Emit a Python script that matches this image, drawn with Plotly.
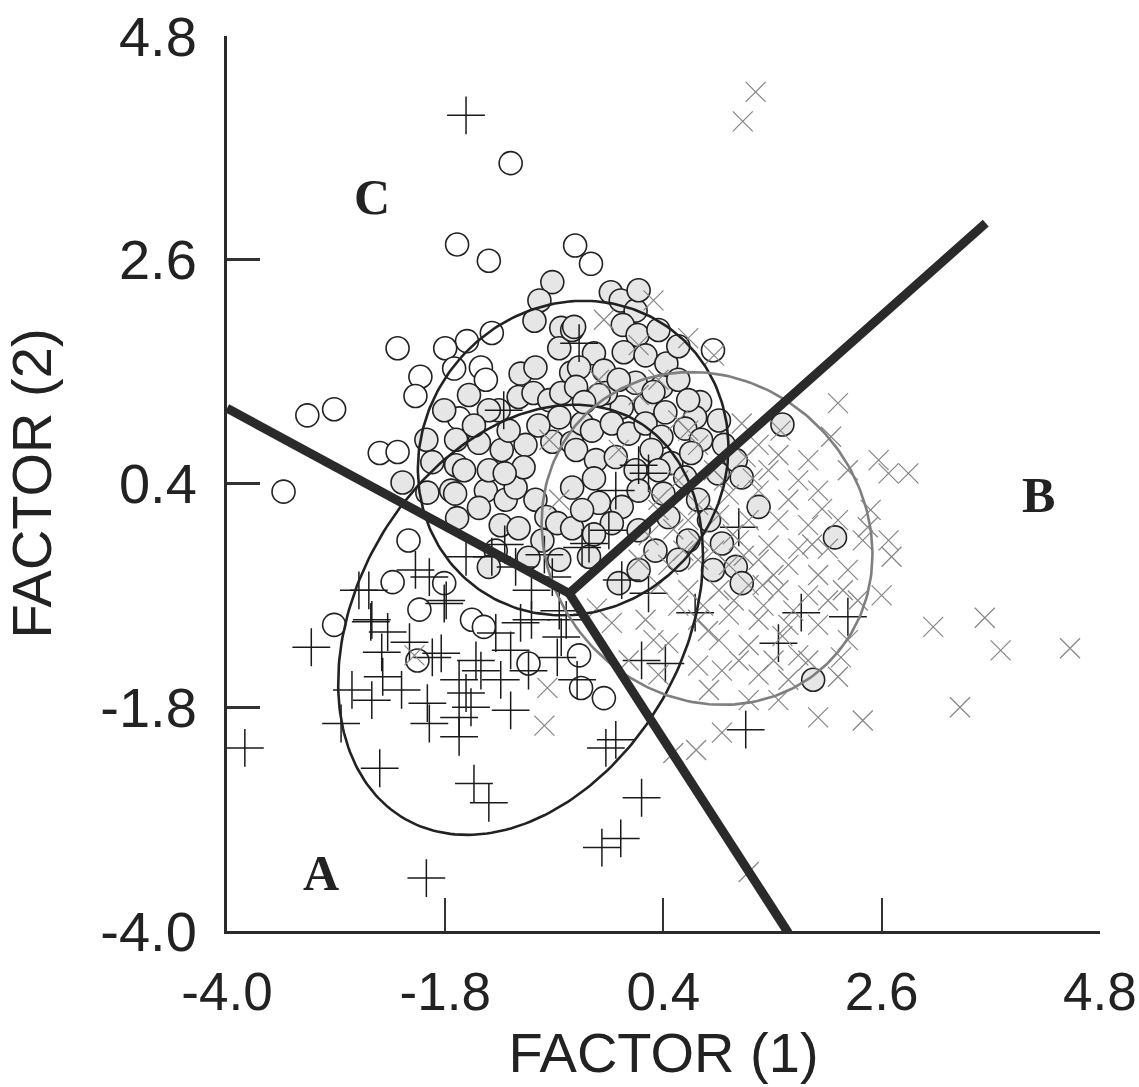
import numpy as np
import plotly.graph_objects as go

# ---------------- data ----------------
tick_vals = [-4.0, -1.8, 0.4, 2.6, 4.8]
tick_text = ["-4.0", "-1.8", "0.4", "2.6", "4.8"]

# group C (circles) - dense core (grey filled)
c_core_pts = [
    (-0.72, 2.38), (-0.85, 2.20), (-0.90, 2.00), (-0.63, 1.93), (-0.65, 1.73), (-1.04, 1.48), (-0.89, 1.54),
    (-1.06, 1.25), (-0.91, 1.29), (-0.75, 1.22), (-0.63, 1.29), (-0.53, 1.49), (-0.52, 1.91), (-1.26, 1.12),
    (-0.65, 1.05), (-0.13, 2.28), (-0.03, 2.20), (0.12, 2.10), (-0.01, 1.96), (0.14, 1.86), (0.00, 1.69),
    (0.22, 1.66), (0.43, 1.58), (0.38, 1.35), (0.12, 1.39), (0.22, 1.17), (0.77, 1.20), (-0.50, 1.94),
    (-0.30, 1.68), (-0.45, 1.54), (-0.20, 1.51), (-0.48, 1.35), (-0.02, 1.15), (-0.18, 1.29), (0.42, 1.10),
    (0.72, 1.05), (-1.99, 0.83), (-1.69, 0.83), (-1.46, 0.80), (-1.23, 0.73), (-0.99, 0.78), (-0.72, 0.81),
    (-0.52, 0.80), (-1.93, 0.61), (-1.69, 0.58), (-2.23, 0.41), (-1.98, 0.31), (-1.74, 0.33), (-1.39, 0.33),
    (-1.19, 0.24), (-1.09, 0.36), (-0.89, 0.24), (-1.01, 0.56), (-0.52, 0.36), (-1.46, 0.16), (-1.68, 0.06),
    (-1.24, -0.01), (-1.06, -0.04), (-0.78, 0.07), (-0.67, 0.01), (-0.82, -0.16), (-0.96, -0.33), (-1.36, -0.42),
    (-0.52, -0.04), (-0.42, 0.99), (-0.32, 0.92), (-0.12, 0.99), (0.05, 0.89), (0.22, 0.99), (0.38, 0.86),
    (0.62, 0.94), (0.78, 0.83), (-0.48, 0.73), (-0.28, 0.63), (-0.08, 0.66), (0.12, 0.53), (0.28, 0.73),
    (0.48, 0.60), (0.68, 0.70), (0.62, 0.46), (1.13, 0.63), (1.19, 0.46), (-0.25, 0.21), (-0.02, 0.17),
    (-0.42, 0.14), (-0.12, 0.01), (0.45, 0.07), (1.36, 0.17), (0.65, -0.16), (0.32, -0.26), (0.99, -0.19),
    (1.13, -0.42), (1.19, -0.58), (-0.05, -0.58), (-0.35, -0.32), (1.60, 0.98), (2.13, -0.13), (1.91, -1.53),
    (-1.56, 1.27), (-1.36, 1.12), (-1.81, 1.12), (-1.51, 0.97), (-1.16, 0.92), (-0.86, 0.97), (-0.25, 1.27),
    (-0.05, 1.42), (0.55, 1.42), (0.65, 1.22), (0.96, 1.02), (1.01, 0.78), (0.35, 0.53), (0.15, 0.33),
    (0.75, 0.24), (0.86, 0.04), (0.15, -0.06), (-0.65, -0.35), (0.15, -0.45), (0.55, -0.35), (-1.36, 0.53),
    (-1.61, 0.53), (0.15, 2.30), (0.35, 1.91), (0.55, 1.75), (0.30, 1.30), (-0.40, 1.20), (-1.20, 0.50),
    (-0.30, 0.45), (0.40, 0.30), (0.95, 0.50), (0.90, -0.45), (-0.30, -0.10), (-1.70, 0.30),
]
# group C (circles) - outliers (white filled)
c_outer_pts = [
    (-1.14, 3.55), (-1.68, 2.75), (-1.36, 2.59), (-0.49, 2.74), (-0.33, 2.56), (-1.33, 1.88), (-1.58, 1.80),
    (-1.80, 1.73), (-2.28, 1.73), (-2.05, 1.45), (-2.10, 1.26), (-1.71, 1.53), (-1.44, 1.54), (-1.39, 1.42),
    (-3.19, 1.07), (-2.92, 1.13), (-3.43, 0.32), (-2.46, 0.70), (-2.28, 0.71), (-2.17, -0.16), (-2.33, -0.57),
    (-2.92, -0.99), (-2.06, -0.84), (-2.08, -1.34), (-1.53, -0.94), (-1.41, -1.01), (-0.96, -1.37),
    (-0.45, -1.29), (-0.20, -1.71), (-0.43, -1.61), (-1.81, -0.58), (-1.29, -0.26), (0.90, 1.71), (-1.66, 1.04),
]
# group A (plus)
a_pts = [
    (-3.15, -1.21), (-3.82, -2.20), (-2.85, -1.96), (-2.74, -1.63), (-2.55, -0.96), (-2.38, -1.06), (-2.44, -1.26),
    (-2.16, -1.16), (-1.93, -1.31), (-1.84, -1.27), (-2.43, -1.50), (-2.54, -1.73), (-2.24, -1.63), (-1.98, -1.76),
    (-1.96, -1.96), (-1.66, -1.53), (-1.49, -1.34), (-1.44, -1.44), (-1.59, -1.66), (-1.54, -1.80), (-1.66, -1.90),
    (-1.66, -2.09), (-1.24, -1.53), (-1.14, -1.24), (-1.14, -1.83), (-0.96, -1.44), (-1.04, -0.97), (-1.29, -1.07),
    (-0.93, -0.94), (-0.67, -1.31), (-0.47, -1.53), (-0.63, -1.11), (-0.18, -2.20), (-0.08, -2.12), (-1.51, -2.55),
    (-1.36, -2.74), (-2.46, -2.40), (0.18, -2.69), (-0.22, -3.18), (-0.03, -3.09), (-1.99, -3.48), (-2.57, -0.65),
    (-1.81, -0.78), (-2.67, -0.65), (-1.96, -0.52), (-1.79, -0.75), (-1.59, -0.32), (-1.33, -0.32), (-1.09, -0.42),
    (-0.93, -0.65), (-0.72, -0.52), (-0.42, -0.23), (-0.58, -0.94), (-2.54, -0.94), (1.16, -0.03), (-0.08, 0.33),
    (-0.35, -0.19), (-0.15, -0.06), (0.25, 0.50), (-0.02, -0.55), (0.25, -0.68), (0.72, -0.87), (1.79, -0.87),
    (2.26, -0.91), (-0.45, 1.78), (1.56, -1.17), (1.23, -2.02), (0.42, -1.37), (0.18, -1.34), (-1.59, 4.02),
    (-1.21, 1.12), (0.15, 0.58), (-0.65, -0.85), (-1.20, -0.20), (-0.80, -0.30), (-2.10, -0.45),
]
# group B (x)
b_pts = [
    (0.30, 2.20), (0.65, 1.83), (0.91, 1.66), (0.35, 1.42), (0.15, 1.27), (1.19, 0.99), (1.58, 0.92), (2.16, 1.19),
    (2.09, 0.86), (0.75, 0.78), (1.36, 0.78), (0.65, 0.92), (1.23, 0.66), (1.46, 0.53), (1.76, 0.43), (1.96, 0.33),
    (0.91, 0.53), (0.55, 0.43), (2.26, 0.53), (1.66, 0.24), (1.36, 0.33), (1.06, 0.29), (0.75, 0.19), (0.35, 0.14),
    (0.65, 0.04), (0.96, 0.09), (1.26, 0.04), (1.56, 0.04), (1.86, -0.01), (2.16, 0.04), (2.46, -0.03), (2.67, -0.16),
    (0.25, -0.11), (0.75, -0.16), (1.16, -0.16), (1.46, -0.21), (1.76, -0.24), (2.06, -0.24), (0.15, -0.35),
    (0.45, -0.40), (0.75, -0.35), (1.06, -0.40), (1.36, -0.35), (1.66, -0.40), (1.96, -0.50), (2.26, -0.45),
    (2.70, -0.32), (0.35, -0.60), (0.65, -0.65), (0.96, -0.65), (1.26, -0.60), (1.56, -0.65), (1.86, -0.70),
    (2.21, -0.65), (2.60, -0.70), (-0.12, -0.97), (0.22, -0.94), (0.45, -1.17), (0.75, -0.94), (1.06, -0.89),
    (1.36, -0.94), (1.66, -0.99), (1.96, -0.99), (2.26, -1.14), (0.96, -1.14), (1.26, -1.19), (1.51, -1.34),
    (1.76, -1.29), (2.19, -1.31), (0.99, -1.44), (1.36, -1.48), (1.66, -1.53), (2.16, -1.50), (0.75, -1.39),
    (0.35, -1.48), (0.99, -2.05), (0.73, -2.22), (0.50, -2.25), (1.96, -1.90), (2.41, -1.93), (1.26, -1.73),
    (3.12, -1.01), (3.64, -0.92), (3.80, -1.24), (4.50, -1.22), (3.39, -1.80), (2.57, 0.63), (2.67, 0.50),
    (2.87, 0.50), (2.49, 0.14), (1.26, -3.42), (1.33, 4.25), (1.20, 3.96), (-2.11, -1.29), (-0.80, -1.98),
    (-0.27, -0.83), (-0.77, -1.61), (0.05, -1.34), (-0.20, 2.01), (0.15, 1.76), (-0.25, 1.42), (-0.75, 0.83),
    (-0.05, 0.73), (0.55, 1.02), (-0.65, 0.24), (0.35, 0.24), (0.60, -0.26), (0.91, -0.26), (1.21, -0.31),
    (1.51, -0.50), (0.80, -0.80), (1.11, -0.75), (1.41, -0.80), (1.71, -0.85), (0.55, -0.80), (0.30, -1.14),
    (1.16, -1.34), (1.86, -1.34), (0.86, -1.63), (1.56, -1.73), (2.06, -0.75), (2.41, -0.16), (2.36, -0.75),
    (1.01, 0.43), (1.56, 0.68), (1.86, 0.63), (1.10, -0.10), (1.40, -0.60), (0.85, -1.05), (1.60, -1.10),
    (1.90, -0.20), (0.50, -0.05), (2.00, 0.15), (1.30, 0.45),
]

# group ellipses: centre x, centre y, semi-major, semi-minor, angle (deg)
ellipse_names = ["C", "A", "B"]
ellipse_cx = [-0.51, -1.04, 0.84]
ellipse_cy = [0.65, -0.94, -0.14]
ellipse_a = [1.61, 2.28, 1.73]
ellipse_b = [1.50, 1.63, 1.57]
ellipse_ang = [40.0, 57.7, -39.3]
ellipse_colors = ["#222222", "#222222", "#7f7f7f"]

# territorial boundaries: junction and three end points
junction = (-0.55, -0.68)
boundary_ends = [(-4.0, 1.14), (3.65, 2.96), (1.66, -4.02)]

# region labels
region_labels = ["A", "B", "C"]
region_x = [-3.05, 4.18, -2.54]
region_y = [-3.43, 0.29, 3.22]

# ---------------- figure ----------------
fig = go.Figure()

def xs(p):
    return [q[0] for q in p]

def ys(p):
    return [q[1] for q in p]

fig.add_trace(go.Scatter(x=xs(c_outer_pts), y=ys(c_outer_pts), mode="markers",
                         marker=dict(symbol="circle", size=23, color="#ffffff",
                                     line=dict(color="#222222", width=1.6)), showlegend=False))
fig.add_trace(go.Scatter(x=xs(c_core_pts), y=ys(c_core_pts), mode="markers",
                         marker=dict(symbol="circle", size=23, color="#e6e6e6",
                                     line=dict(color="#222222", width=1.6)), showlegend=False))
fig.add_trace(go.Scatter(x=xs(a_pts), y=ys(a_pts), mode="markers",
                         marker=dict(symbol="cross-thin", size=27,
                                     line=dict(color="#1a1a1a", width=1.5)), showlegend=False))
fig.add_trace(go.Scatter(x=xs(b_pts), y=ys(b_pts), mode="markers",
                         marker=dict(symbol="x-thin", size=20,
                                     line=dict(color="#858585", width=1.2)), showlegend=False))

t = np.linspace(0, 2 * np.pi, 240)
for cx, cy, a, b, ang, col in zip(ellipse_cx, ellipse_cy, ellipse_a, ellipse_b, ellipse_ang, ellipse_colors):
    th = np.deg2rad(ang)
    ex = cx + a * np.cos(th) * np.cos(t) - b * np.sin(th) * np.sin(t)
    ey = cy + a * np.sin(th) * np.cos(t) + b * np.cos(th) * np.sin(t)
    fig.add_trace(go.Scatter(x=ex, y=ey, mode="lines", line=dict(color=col, width=2.6),
                             showlegend=False, hoverinfo="skip"))

bx, by = [], []
for ex_, ey_ in boundary_ends:
    bx += [junction[0], ex_, None]
    by += [junction[1], ey_, None]
fig.add_trace(go.Scatter(x=bx, y=by, mode="lines", line=dict(color="#2a2a2a", width=9),
                         showlegend=False, hoverinfo="skip"))

for lab, lx, ly in zip(region_labels, region_x, region_y):
    fig.add_annotation(x=lx, y=ly, text="<b>%s</b>" % lab, showarrow=False,
                       font=dict(family="Liberation Serif, Times New Roman, serif", size=50, color="#222222"))

xtick_font = dict(family="Arial, Liberation Sans, sans-serif", size=53, color="#222222")
ytick_font = dict(family="Arial, Liberation Sans, sans-serif", size=56, color="#222222")
title_font = dict(family="Arial, Liberation Sans, sans-serif", size=56, color="#222222")
fig.update_xaxes(range=[-4.0, 4.802], tickvals=tick_vals, ticktext=tick_text, ticks="inside", ticklen=33,
                 tickwidth=1.5, tickcolor="#333333", showline=True, linecolor="#2a2a2a", linewidth=3,
                 showgrid=False, zeroline=False, tickfont=xtick_font, ticklabelstandoff=12,
                 ticklabeloverflow="allow",
                 title=dict(text="FACTOR (1)", font=title_font, standoff=10),
                 automargin=False)
fig.update_yaxes(range=[-4.0, 4.8], tickvals=tick_vals, ticktext=tick_text, ticks="inside", ticklen=33,
                 tickwidth=3, tickcolor="#333333", showline=True, linecolor="#2a2a2a", linewidth=3,
                 showgrid=False, zeroline=False, tickfont=ytick_font, ticklabelstandoff=16,
                 ticklabeloverflow="allow",
                 title=dict(text="FACTOR (2)", font=title_font, standoff=38),
                 automargin=False)
fig.update_layout(width=1139, height=1087, margin=dict(l=227, r=39, t=36, b=156),
                  paper_bgcolor="white", plot_bgcolor="white", showlegend=False)

# remove the default 8px page margin so the figure sits at the window origin
fig.write_html("out.html", config={"displayModeBar": False},
               post_script="document.body.style.margin='0';document.body.style.overflow='hidden';")
